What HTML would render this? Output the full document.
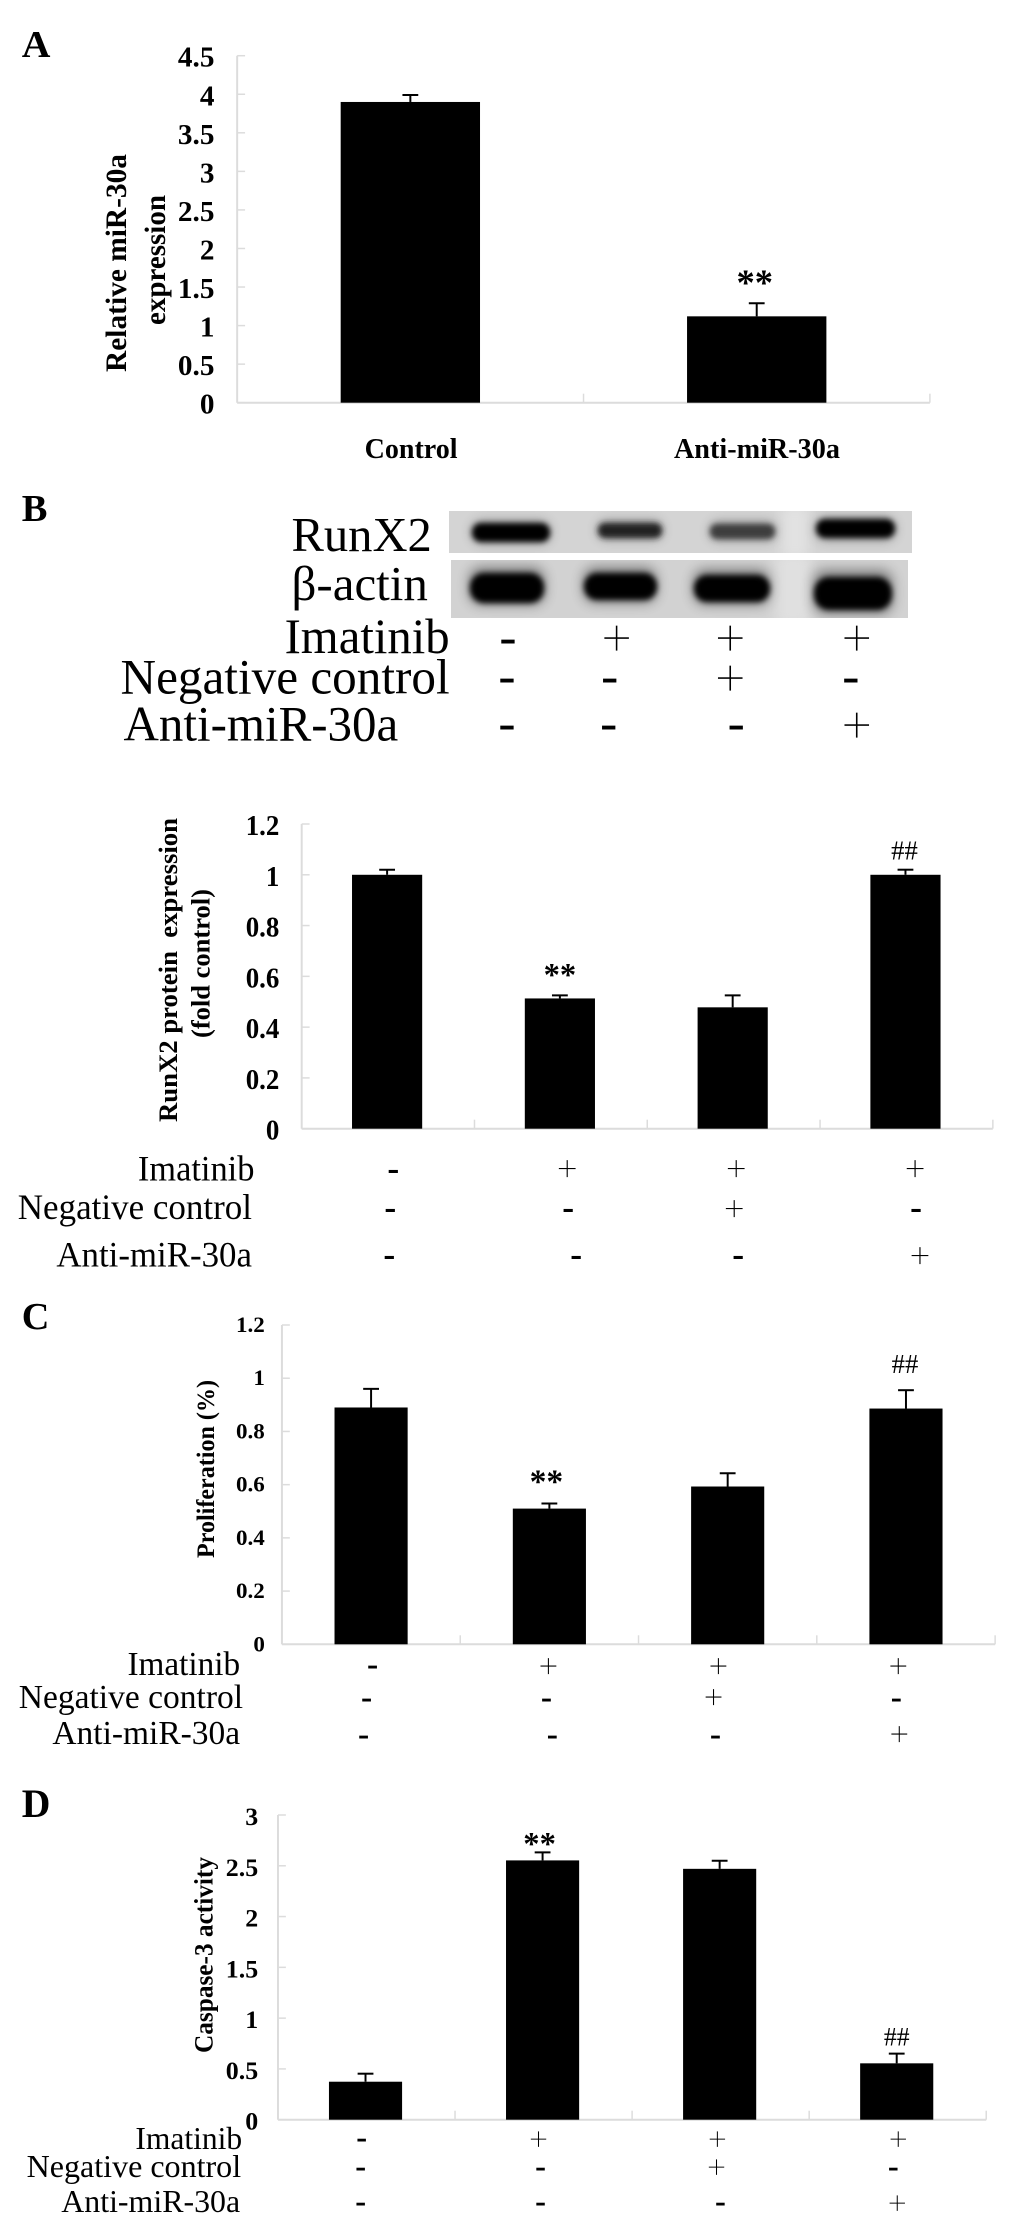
<!DOCTYPE html>
<html lang="en">
<head>
<meta charset="utf-8">
<title>miR-30a figure panels A-D</title>
<style>
html,body{margin:0;padding:0;background:#fff;width:1033px;height:2224px;overflow:hidden}
svg{display:block}
text{font-family:"Liberation Serif","DejaVu Serif",serif;fill:#000}
.b{font-weight:bold}
.sym{text-anchor:middle}
.plus{stroke:#fff;stroke-width:0.7px}
.plus-lg{stroke:#fff;stroke-width:1.2px}
</style>
</head>
<body>
<svg id="figure" xmlns="http://www.w3.org/2000/svg" width="1033" height="2224" viewBox="0 0 1033 2224">
<defs>
<filter id="blur-sm" x="-20%" y="-60%" width="140%" height="220%"><feGaussianBlur stdDeviation="3"/></filter>
<filter id="blur-lg" x="-30%" y="-80%" width="160%" height="260%"><feGaussianBlur stdDeviation="6"/></filter>
<clipPath id="clip-runx2"><rect x="449" y="511" width="463" height="42"/></clipPath>
<clipPath id="clip-actin"><rect x="451" y="560" width="457" height="58"/></clipPath>
</defs>
<rect width="1033" height="2224" fill="#fff"/>

<g>
<rect x="449" y="511" width="463" height="42" fill="#d4d4d4"/>
<g clip-path="url(#clip-runx2)">
<rect x="782" y="505" width="26" height="54" fill="#e2e2e2" filter="url(#blur-lg)"/>
<g opacity="0.3">
<rect x="472" y="521" width="78" height="22" rx="10" fill="#000" filter="url(#blur-lg)"/>
<rect x="598" y="521" width="64" height="18" rx="8" fill="#000" filter="url(#blur-lg)"/>
<rect x="710" y="522" width="65" height="18" rx="8" fill="#000" filter="url(#blur-lg)"/>
<rect x="816" y="518" width="79" height="22" rx="10" fill="#000" filter="url(#blur-lg)"/>
</g>
<g>
<rect x="472" y="523" width="78" height="19" rx="9" fill="#000" filter="url(#blur-sm)"/>
<rect x="598" y="523" width="64" height="15" rx="7" fill="#222" filter="url(#blur-sm)"/>
<rect x="710" y="524" width="65" height="15" rx="7" fill="#3c3c3c" filter="url(#blur-sm)"/>
<rect x="816" y="519" width="79" height="19" rx="9" fill="#000" filter="url(#blur-sm)"/>
</g>
</g>
<rect x="451" y="560" width="457" height="58" fill="#d2d2d2"/>
<g clip-path="url(#clip-actin)">
<rect x="776" y="552" width="34" height="74" fill="#e0e0e0" filter="url(#blur-lg)"/>
<g opacity="0.4">
<rect x="469" y="567" width="76" height="38" rx="12" fill="#000" filter="url(#blur-lg)"/>
<rect x="583" y="567" width="74" height="36" rx="12" fill="#000" filter="url(#blur-lg)"/>
<rect x="693" y="569" width="77" height="36" rx="12" fill="#000" filter="url(#blur-lg)"/>
<rect x="813" y="570" width="80" height="44" rx="12" fill="#000" filter="url(#blur-lg)"/>
</g>
<g>
<rect x="470" y="573" width="74" height="30" rx="14" fill="#000" filter="url(#blur-sm)"/>
<rect x="584" y="573" width="73" height="27" rx="13" fill="#000" filter="url(#blur-sm)"/>
<rect x="694" y="575" width="76" height="27" rx="13" fill="#000" filter="url(#blur-sm)"/>
<rect x="814" y="577" width="78" height="33" rx="15" fill="#000" filter="url(#blur-sm)"/>
</g>
</g>
</g>

<g id="scaled" transform="scale(0.9882 1)">

<text class="b" x="22" y="57" font-size="38" textLength="29" lengthAdjust="spacingAndGlyphs">A</text>
<text class="b" x="22" y="521" font-size="38" textLength="26" lengthAdjust="spacingAndGlyphs">B</text>
<text class="b" x="22" y="1329" font-size="38" textLength="28" lengthAdjust="spacingAndGlyphs">C</text>
<text class="b" x="22" y="1817" font-size="40" textLength="29" lengthAdjust="spacingAndGlyphs">D</text>

<text class="b" transform="translate(127.5 372) rotate(-90)" font-size="30" textLength="218" lengthAdjust="spacingAndGlyphs">Relative miR-30a</text>
<text class="b" transform="translate(167 325) rotate(-90)" font-size="30" textLength="130" lengthAdjust="spacingAndGlyphs">expression</text>
<text class="b" x="369" y="458" font-size="29" textLength="94" lengthAdjust="spacingAndGlyphs">Control</text>
<text class="b" x="682" y="458" font-size="29" textLength="168" lengthAdjust="spacingAndGlyphs">Anti-miR-30a</text>

<text x="295" y="551" font-size="49" textLength="142" lengthAdjust="spacingAndGlyphs">RunX2</text>
<text x="295" y="600" font-size="49" textLength="138" lengthAdjust="spacingAndGlyphs">β-actin</text>
<text x="288" y="653" font-size="50" textLength="167" lengthAdjust="spacingAndGlyphs">Imatinib</text>
<text x="122" y="693.5" font-size="50" textLength="333" lengthAdjust="spacingAndGlyphs">Negative control</text>
<text x="125" y="740.5" font-size="50" textLength="278" lengthAdjust="spacingAndGlyphs">Anti-miR-30a</text>
<g font-size="52">
<text class="sym" x="514" y="654">-</text>
<text class="sym plus-lg" font-size="56" x="624" y="657">+</text>
<text class="sym plus-lg" font-size="56" x="739" y="657">+</text>
<text class="sym plus-lg" font-size="56" x="867" y="657">+</text>
<text class="sym" x="513" y="693">-</text>
<text class="sym" x="617" y="693">-</text>
<text class="sym plus-lg" font-size="56" x="739" y="697">+</text>
<text class="sym" x="861" y="693">-</text>
<text class="sym" x="513" y="740">-</text>
<text class="sym" x="616" y="740">-</text>
<text class="sym" x="745" y="740">-</text>
<text class="sym plus-lg" font-size="56" x="867" y="744">+</text>
</g>

<text class="b" transform="translate(179 1122) rotate(-90)" font-size="27" textLength="304" lengthAdjust="spacingAndGlyphs" xml:space="preserve">RunX2 protein  expression</text>
<text class="b" transform="translate(212 1038) rotate(-90)" font-size="27" textLength="149" lengthAdjust="spacingAndGlyphs">(fold control)</text>
<text x="139.5" y="1180.5" font-size="36" textLength="118" lengthAdjust="spacingAndGlyphs">Imatinib</text>
<text x="18" y="1219" font-size="35.5" textLength="237" lengthAdjust="spacingAndGlyphs">Negative control</text>
<text x="57" y="1266.7" font-size="35.5" textLength="198" lengthAdjust="spacingAndGlyphs">Anti-miR-30a</text>
<g font-size="36">
<text class="sym b" x="398" y="1180">-</text>
<text class="sym plus" font-size="38" x="574" y="1181">+</text>
<text class="sym plus" font-size="38" x="745" y="1181">+</text>
<text class="sym plus" font-size="38" x="926" y="1181">+</text>
<text class="sym b" x="395" y="1219">-</text>
<text class="sym b" x="575" y="1219">-</text>
<text class="sym plus" font-size="38" x="743" y="1221">+</text>
<text class="sym b" x="927" y="1219">-</text>
<text class="sym b" x="394" y="1266">-</text>
<text class="sym b" x="583" y="1266">-</text>
<text class="sym b" x="747" y="1266">-</text>
<text class="sym plus" font-size="38" x="931" y="1268">+</text>
</g>

<text class="b" transform="translate(216.5 1558) rotate(-90)" font-size="26" textLength="178" lengthAdjust="spacingAndGlyphs">Proliferation (%)</text>
<text x="129" y="1675" font-size="33.5" textLength="114" lengthAdjust="spacingAndGlyphs">Imatinib</text>
<text x="19" y="1708" font-size="33.5" textLength="227" lengthAdjust="spacingAndGlyphs">Negative control</text>
<text x="53" y="1744" font-size="33.5" textLength="190" lengthAdjust="spacingAndGlyphs">Anti-miR-30a</text>
<g font-size="34">
<text class="sym b" x="377" y="1675">-</text>
<text class="sym plus" font-size="36" x="555" y="1678">+</text>
<text class="sym plus" font-size="36" x="727" y="1678">+</text>
<text class="sym plus" font-size="36" x="909" y="1678">+</text>
<text class="sym b" x="371" y="1708">-</text>
<text class="sym b" x="553" y="1708">-</text>
<text class="sym plus" font-size="36" x="722" y="1709">+</text>
<text class="sym b" x="907" y="1708">-</text>
<text class="sym b" x="368" y="1745">-</text>
<text class="sym b" x="559" y="1745">-</text>
<text class="sym b" x="724" y="1745">-</text>
<text class="sym plus" font-size="36" x="910" y="1746">+</text>
</g>

<text class="b" transform="translate(215 2053) rotate(-90)" font-size="27" textLength="196" lengthAdjust="spacingAndGlyphs">Caspase-3 activity</text>
<text x="137" y="2149" font-size="32" textLength="108" lengthAdjust="spacingAndGlyphs">Imatinib</text>
<text x="27" y="2177" font-size="32" textLength="217" lengthAdjust="spacingAndGlyphs">Negative control</text>
<text x="62" y="2212" font-size="32" textLength="181" lengthAdjust="spacingAndGlyphs">Anti-miR-30a</text>
<g font-size="33">
<text class="sym b" x="366" y="2148">-</text>
<text class="sym plus" font-size="35" x="545" y="2151">+</text>
<text class="sym plus" font-size="35" x="726" y="2151">+</text>
<text class="sym plus" font-size="35" x="909" y="2151">+</text>
<text class="sym b" x="365" y="2177">-</text>
<text class="sym b" x="547" y="2177">-</text>
<text class="sym plus" font-size="35" x="725" y="2179">+</text>
<text class="sym b" x="904" y="2177">-</text>
<text class="sym b" x="365" y="2212">-</text>
<text class="sym b" x="547" y="2212">-</text>
<text class="sym b" x="729" y="2212">-</text>
<text class="sym plus" font-size="35" x="908" y="2215">+</text>
</g>

<g id="charts"></g>
</g>
</svg>

<script>
const panelACategories = ['Control', 'Anti-miR-30a'];
const panelAValues = [3.90, 1.12];
const panelAErrors = [0.09, 0.17];
const panelATicks = ['0', '0.5', '1', '1.5', '2', '2.5', '3', '3.5', '4', '4.5'];
const panelAMarks = ['', '**'];

const panelBCategories = ['Control', 'Imatinib', 'Imatinib + negative control', 'Imatinib + anti-miR-30a'];
const panelBValues = [1.00, 0.513, 0.478, 1.00];
const panelBErrors = [0.02, 0.012, 0.047, 0.02];
const panelBTicks = ['0', '0.2', '0.4', '0.6', '0.8', '1', '1.2'];
const panelBMarks = ['', '**', '', '##'];

const panelCCategories = ['Control', 'Imatinib', 'Imatinib + negative control', 'Imatinib + anti-miR-30a'];
const panelCValues = [0.89, 0.51, 0.593, 0.886];
const panelCErrors = [0.07, 0.019, 0.05, 0.069];
const panelCTicks = ['0', '0.2', '0.4', '0.6', '0.8', '1', '1.2'];
const panelCMarks = ['', '**', '', '##'];

const panelDCategories = ['Control', 'Imatinib', 'Imatinib + negative control', 'Imatinib + anti-miR-30a'];
const panelDValues = [0.374, 2.553, 2.47, 0.555];
const panelDErrors = [0.079, 0.079, 0.08, 0.095];
const panelDTicks = ['0', '0.5', '1', '1.5', '2', '2.5', '3'];
const panelDMarks = ['', '**', '', '##'];

const SVG_NS = 'http://www.w3.org/2000/svg';

function make(tag, attrs, parent) {
  const node = document.createElementNS(SVG_NS, tag);
  for (const key in attrs) node.setAttribute(key, attrs[key]);
  parent.appendChild(node);
  return node;
}

function drawChart(id, categories, values, errors, ticks, marks, g) {
  const root = document.getElementById('charts');
  const group = make('g', {}, root);
  
  

  const maxTick = Math.max.apply(null, ticks.map(Number));
  const bandWidth = (g.right - g.left) / categories.length;
  const xCenter = function (i) { return g.left + (i + 0.5) * bandWidth; };
  const yScale = function (v) { return g.bottom - (v / maxTick) * (g.bottom - g.top); };

  const axisColor = '#dcdcdc';

  const yAxis = make('line', { x1: g.left, x2: g.left, y1: g.top, y2: g.bottom, stroke: axisColor, 'stroke-width': 2 }, group);
  
  

  const xAxis = make('line', { x1: g.left, x2: g.right, y1: g.bottom, y2: g.bottom, stroke: axisColor, 'stroke-width': 2 }, group);
  
  

  ticks.forEach(function (label) {
    const y = yScale(Number(label));
    const tick = make('line', { x1: g.left, x2: g.left + 8, y1: y, y2: y, stroke: axisColor, 'stroke-width': 1.5 }, group);
    
    

    const text = make('text', {
      transform: 'translate(' + g.tickRight + ' ' + (y + g.tickDy) + ') scale(' + g.tickSx + ' 1)',
      'font-size': g.tickFont,
      'font-weight': 'bold',
      'text-anchor': 'end'
    }, group);
    text.textContent = label;
    
    
  });

  categories.forEach(function (category, i) {
    const xt = g.left + (i + 1) * bandWidth;
    const catTick = make('line', { x1: xt, x2: xt, y1: g.bottom - 9, y2: g.bottom, stroke: axisColor, 'stroke-width': 1.5 }, group);
    
    

    const cx = xCenter(i) + g.barDx;
    const top = yScale(values[i]);
    const errTop = yScale(values[i] + errors[i]);

    const bar = make('rect', { x: cx - g.barWidth / 2, y: top, width: g.barWidth, height: g.bottom - top, fill: '#000' }, group);
    
    

    const stem = make('line', { x1: cx, x2: cx, y1: top, y2: errTop, stroke: '#000', 'stroke-width': 2 }, group);
    
    

    const cap = make('line', { x1: cx - 8, x2: cx + 8, y1: errTop, y2: errTop, stroke: '#000', 'stroke-width': 2 }, group);
    
    

    if (marks[i]) {
      const isStar = marks[i] === '**';
      const mark = make('text', {
        x: cx + (isStar ? g.starDx : g.hashDx),
        y: errTop + (isStar ? g.starDy : g.hashDy),
        'font-size': isStar ? g.starFont : g.hashFont,
        'font-weight': isStar ? 'bold' : 'normal',
        'text-anchor': 'middle'
      }, group);
      mark.textContent = marks[i];
      
      
    }
  });
}

drawChart('panel-a', panelACategories, panelAValues, panelAErrors, panelATicks, panelAMarks, {
  left: 240, right: 941, top: 55.7, bottom: 402.7, barWidth: 141, barDx: 0,
  tickRight: 217, tickDy: 11, tickFont: 29, tickSx: 1.02,
  starFont: 37, starDx: -2, starDy: -8, hashFont: 26, hashDx: 0, hashDy: 0
});
drawChart('panel-b', panelBCategories, panelBValues, panelBErrors, panelBTicks, panelBMarks, {
  left: 305.3, right: 1004.7, top: 824, bottom: 1128.7, barWidth: 71, barDx: -1,
  tickRight: 282.7, tickDy: 11, tickFont: 29, tickSx: 0.94,
  starFont: 33, starDx: 0, starDy: -10, hashFont: 27, hashDx: -1, hashDy: -10
});
drawChart('panel-c', panelCCategories, panelCValues, panelCErrors, panelCTicks, panelCMarks, {
  left: 285.3, right: 1007, top: 1325, bottom: 1644.3, barWidth: 74, barDx: 0,
  tickRight: 268, tickDy: 7, tickFont: 22, tickSx: 1.06,
  starFont: 34, starDx: -3, starDy: -11, hashFont: 27, hashDx: -1, hashDy: -17
});
drawChart('panel-d', panelDCategories, panelDValues, panelDErrors, panelDTicks, panelDMarks, {
  left: 281.3, right: 998, top: 1815, bottom: 2119.7, barWidth: 74, barDx: -1,
  tickRight: 261.3, tickDy: 10, tickFont: 25, tickSx: 1.05,
  starFont: 33, starDx: -3, starDy: 2, hashFont: 26, hashDx: 0, hashDy: -8
});
</script>
</body>
</html>
